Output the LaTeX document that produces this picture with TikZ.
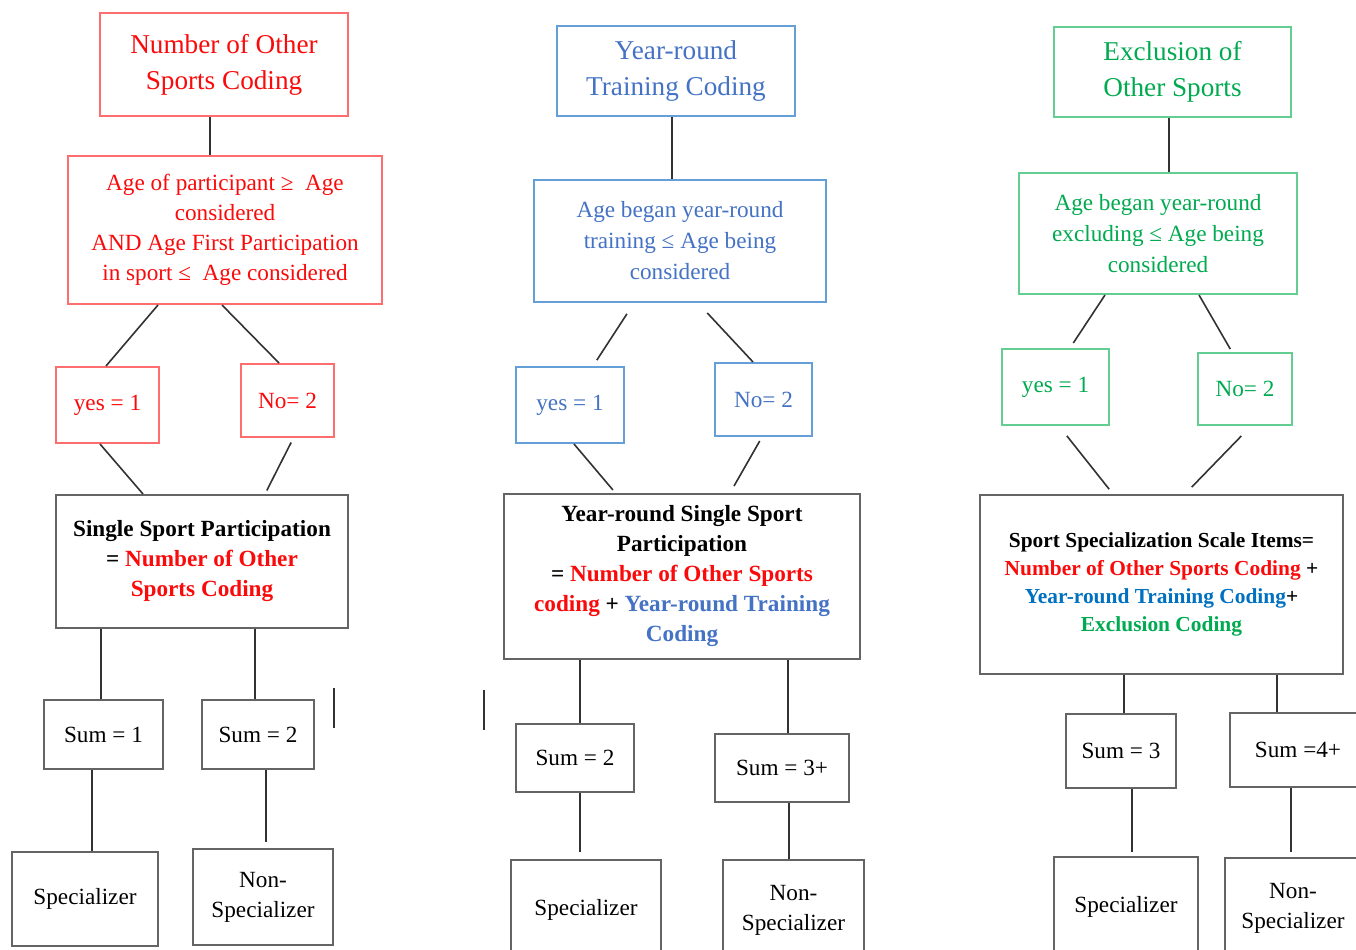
\documentclass[tikz,border=0pt]{standalone}
\usepackage{fontspec}
\setmainfont{Liberation Serif}
\definecolor{rtext}{RGB}{250,10,10}
\definecolor{rborder}{RGB}{255,110,110}
\definecolor{btext}{RGB}{68,114,196}
\definecolor{bborder}{RGB}{100,160,215}
\definecolor{gtext}{RGB}{0,170,80}
\definecolor{gborder}{RGB}{100,205,145}
\definecolor{bbtext}{RGB}{0,112,192}
\definecolor{boxgray}{RGB}{100,100,100}
\definecolor{linegray}{RGB}{50,50,50}
\tikzset{
  base/.style={draw, rectangle, inner sep=0pt, align=center, line width=1pt},
  redbox/.style={base, draw=rborder, text=rtext},
  bluebox/.style={base, draw=bborder, text=btext},
  greenbox/.style={base, draw=gborder, text=gtext},
  blackbox/.style={base, draw=boxgray, text=black},
  titletext/.style={font=\fontsize{13.6}{18}\selectfont},
  condtext/.style={font=\fontsize{11.6}{15}\selectfont},
  condtextb/.style={font=\fontsize{11.6}{15.5}\selectfont},
  boldtext/.style={font=\fontsize{11.6}{15}\selectfont\bfseries},
  smallbold/.style={font=\fontsize{10.7}{14}\selectfont\bfseries},
  conn/.style={draw=linegray, line width=0.8pt},
}
\newcommand\bx[7]{\node[#2, minimum width={0.5pt*(#5-#3)}, minimum height={0.5pt*(#6-#4)}] (#1) at ({(#3+#5)/2},{(#4+#6)/2}) {#7};}
\newcommand\cn[5]{\draw[conn,#5] (#1.south -| #2,0) -- (#3.north -| #4,0);}
\begin{document}
\begin{tikzpicture}[x=0.5pt,y=-0.5pt]
\useasboundingbox (0,0) rectangle (1356,949);
\clip (0,0) rectangle (1356,949);
\fill[white] (0,0) rectangle (1356,949);

% Column 1
\bx{A1}{redbox,titletext}{100}{13}{348}{116}{Number of Other\\Sports Coding}
\bx{A2}{redbox,condtext}{68}{156}{382}{304}{Age of participant ≥\ \ Age\\considered\\AND Age First Participation\\in sport ≤\ \ Age considered}
\bx{Y1}{redbox,condtext}{56}{367}{159}{443}{yes = 1}
\bx{N1}{redbox,condtext}{241}{364}{334}{437}{No= 2}
\bx{S1}{blackbox,boldtext}{56}{495}{348}{628}{Single Sport Participation\\= \textcolor{rtext}{Number of Other}\\\textcolor{rtext}{Sports Coding}}
\bx{U1}{blackbox,condtext}{44}{700}{163}{769}{Sum = 1}
\bx{U2}{blackbox,condtext}{202}{700}{314}{769}{Sum = 2}
\bx{P1}{blackbox,condtext}{12}{852}{158}{946}{Specializer}
\bx{Q1}{blackbox,condtext}{193}{849}{333}{945}{Non-\\Specializer}

% Column 2
\bx{B1}{bluebox,titletext}{557}{26}{795}{116}{Year-round\\Training Coding}
\bx{B2}{bluebox,condtextb}{534}{180}{826}{302}{Age began year-round\\training ≤ Age being\\considered}
\bx{Y2}{bluebox,condtext}{516}{367}{624}{443}{yes = 1}
\bx{N2}{bluebox,condtext}{715}{363}{812}{436}{No= 2}
\bx{S2}{blackbox,boldtext}{504}{494}{860}{659}{Year-round Single Sport\\Participation\\= \textcolor{rtext}{Number of Other Sports}\\\textcolor{rtext}{coding} + \textcolor{btext}{Year-round Training}\\\textcolor{btext}{Coding}}
\bx{U3}{blackbox,condtext}{516}{724}{634}{792}{Sum = 2}
\bx{U4}{blackbox,condtext}{715}{734}{849}{802}{Sum = 3+}
\bx{P2}{blackbox,condtext}{511}{860}{661}{960}{Specializer}
\bx{Q2}{blackbox,condtext}{723}{860}{864}{960}{Non-\\Specializer}

% Column 3
\bx{C1}{greenbox,titletext}{1054}{27}{1291}{117}{Exclusion of\\Other Sports}
\bx{C2}{greenbox,condtextb}{1019}{173}{1297}{294}{Age began year-round\\excluding ≤ Age being\\considered}
\bx{Y3}{greenbox,condtext}{1002}{349}{1109}{425}{yes = 1}
\bx{N3}{greenbox,condtext}{1198}{353}{1292}{425}{No= 2}
\bx{S3}{blackbox,smallbold}{980}{495}{1343}{674}{Sport Specialization Scale Items=\\\textcolor{rtext}{Number of Other Sports Coding} +\\\textcolor{bbtext}{Year-round Training Coding}+\\\textcolor{gtext}{Exclusion Coding}}
\bx{U5}{blackbox,condtext}{1066}{714}{1176}{788}{Sum = 3}
\bx{U6}{blackbox,condtext}{1230}{713}{1366}{787}{Sum =4+}
\bx{P3}{blackbox,condtext}{1054}{857}{1198}{957}{Specializer}
\bx{Q3}{blackbox,condtext}{1225}{858}{1361}{958}{Non-\\Specializer}

% Connectors column 1
\cn{A1}{210}{A2}{210}{}
\cn{A2}{158}{Y1}{106}{}
\cn{A2}{222}{N1}{279}{}
\cn{Y1}{100}{S1}{143}{}
\cn{N1}{293.4}{S1}{265}{shorten <=2.5pt, shorten >=2pt}
\cn{S1}{101}{U1}{101}{}
\cn{S1}{255}{U2}{255}{}
\cn{U1}{92}{P1}{92}{}
\cn{U2}{266}{Q1}{266}{shorten >=3pt}
% Connectors column 2
\cn{B1}{672}{B2}{672}{}
\cn{B2}{634}{Y2}{593}{shorten <=6.5pt, shorten >=3.5pt}
\cn{B2}{698}{N2}{753}{shorten <=6.8pt}
\cn{Y2}{574}{S2}{615.5}{shorten >=2pt}
\cn{N2}{762}{S2}{730}{shorten <=2.3pt, shorten >=4pt}
\cn{S2}{580}{U3}{580}{}
\cn{S2}{788}{U4}{788}{}
\cn{U3}{580}{P2}{580}{shorten >=3.5pt}
\cn{U4}{789}{Q2}{789}{}
% Connectors column 3
\cn{C1}{1169}{C2}{1169}{}
\cn{C2}{1105}{Y3}{1070}{shorten >=3pt}
\cn{C2}{1199}{N3}{1232}{shorten >=1.7pt}
\cn{Y3}{1059}{S3}{1113}{shorten <=6.3pt, shorten >=3.1pt}
\cn{N3}{1251}{S3}{1185}{shorten <=6.9pt, shorten >=4.8pt}
\cn{S3}{1124}{U5}{1124}{}
\cn{S3}{1277}{U6}{1277}{}
\cn{U5}{1132}{P3}{1132}{shorten >=2pt}
\cn{U6}{1291}{Q3}{1291}{shorten >=2.5pt}

% stray marks
\draw[conn] (334,688) -- (334,728);
\draw[conn] (484,690) -- (484,730);
\end{tikzpicture}
\end{document}
